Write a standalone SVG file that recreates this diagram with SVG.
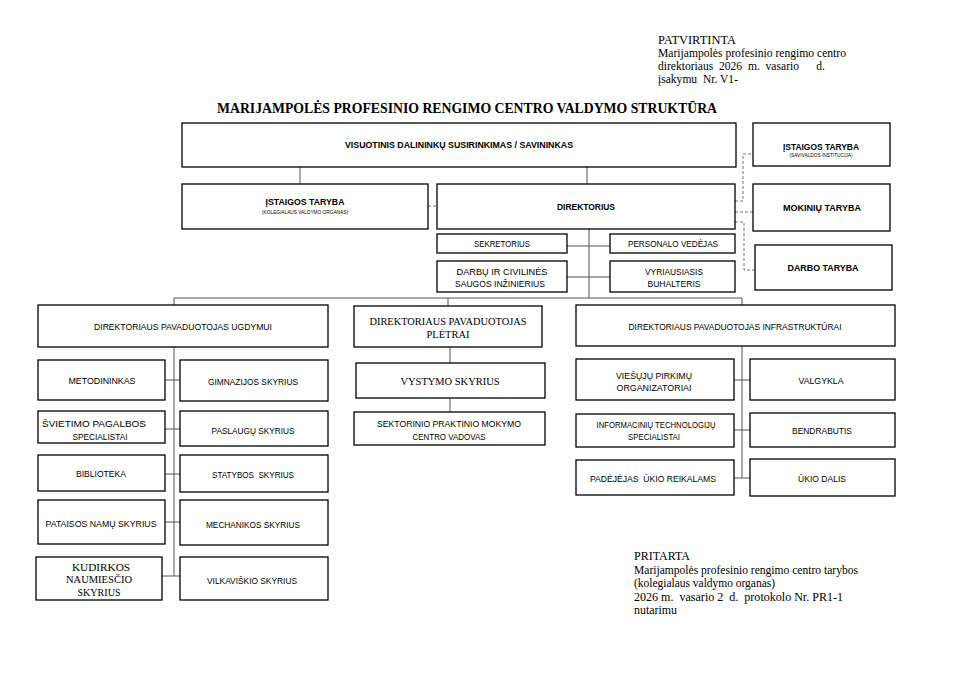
<svg xmlns="http://www.w3.org/2000/svg" width="966" height="683" viewBox="0 0 966 683">
<style>
.b{fill:#fff;stroke:#000;stroke-width:1.3}
.c{fill:none;stroke:#555;stroke-width:1}
.d{fill:none;stroke:#777;stroke-width:1;stroke-dasharray:3,2}
.t{font-family:"Liberation Sans",Arial,sans-serif;font-size:9.2px;fill:#000;text-anchor:middle}
.tb{font-weight:bold}
.ts{font-size:4.5px}
.tr{font-family:"Liberation Serif","Times New Roman",serif;font-size:11px;fill:#000;text-anchor:middle}
.doc{font-family:"Liberation Serif","Times New Roman",serif;font-size:11.5px;fill:#000}
</style>
<rect width="966" height="683" fill="#fff"/>
<g id="doc-text">
<text class="doc" x="658" y="44" textLength="78" lengthAdjust="spacingAndGlyphs">PATVIRTINTA</text>
<text class="doc" x="658" y="57" textLength="188" lengthAdjust="spacingAndGlyphs">Marijampolės profesinio rengimo centro</text>
<text class="doc" x="658" y="70" textLength="167" lengthAdjust="spacingAndGlyphs" xml:space="preserve">direktoriaus  2026  m.  vasario      d.</text>
<text class="doc" x="658" y="83" textLength="80" lengthAdjust="spacingAndGlyphs" xml:space="preserve">įsakymu  Nr. V1-</text>
<text x="467" y="113" font-family="Liberation Serif,Times New Roman,serif" font-weight="bold" font-size="14.5" text-anchor="middle" textLength="500" lengthAdjust="spacingAndGlyphs">MARIJAMPOLĖS PROFESINIO RENGIMO CENTRO VALDYMO STRUKTŪRA</text>
<text class="doc" x="634" y="560" textLength="56" lengthAdjust="spacingAndGlyphs">PRITARTA</text>
<text class="doc" x="634" y="574" textLength="224" lengthAdjust="spacingAndGlyphs">Marijampolės profesinio rengimo centro tarybos</text>
<text class="doc" x="634" y="587" textLength="141" lengthAdjust="spacingAndGlyphs">(kolegialaus valdymo organas)</text>
<text class="doc" x="634" y="601" textLength="209" lengthAdjust="spacingAndGlyphs" xml:space="preserve">2026 m.  vasario 2  d.  protokolo Nr. PR1-1</text>
<text class="doc" x="634" y="614" textLength="43" lengthAdjust="spacingAndGlyphs">nutarimu</text>
</g>
<g id="connectors">
<path class="c" d="M300,167V184M587,167V184"/>
<path class="d" d="M428,206H437"/>
<path class="d" d="M735,201H743V154H753M735,212H753M735,222H744V270H755"/>
<path class="c" d="M589,229V298M567,246H610M567,277H610"/>
<path class="c" d="M174,298H742M174,298V305M448,298V306M742,298V305"/>
<path class="c" d="M174,347V576M165,380H180M165,429H180M165,474H180M165,522H180M162,576H180"/>
<path class="c" d="M450,347V363M450,398V412"/>
<path class="c" d="M742,346V478M734,380H750M734,430H750M734,478H750"/>
</g>
<g id="n-visuotinis"><rect class="b" x="182" y="123" width="554" height="44"/><text class="t tb" x="459" y="148" textLength="228" lengthAdjust="spacingAndGlyphs">VISUOTINIS DALININKŲ SUSIRINKIMAS / SAVININKAS</text></g>
<g id="n-istaigos-taryba-kol"><rect class="b" x="182" y="184" width="246" height="45"/><text class="t tb" x="305" y="205" textLength="79" lengthAdjust="spacingAndGlyphs">ĮSTAIGOS TARYBA</text><text class="t ts" x="305" y="214" textLength="86" lengthAdjust="spacingAndGlyphs">(KOLEGIALAUS VALDYMO ORGANAS)</text></g>
<g id="n-direktorius"><rect class="b" x="437" y="184" width="298" height="45"/><text class="t tb" x="586" y="210" textLength="58" lengthAdjust="spacingAndGlyphs">DIREKTORIUS</text></g>
<g id="n-istaigos-taryba-sav"><rect class="b" x="753" y="123" width="137" height="43"/><text class="t tb" x="821" y="150" textLength="76" lengthAdjust="spacingAndGlyphs">ĮSTAIGOS TARYBA</text><text class="t ts" x="821" y="157" textLength="63" lengthAdjust="spacingAndGlyphs">(SAVIVALDOS INSTITUCIJA)</text></g>
<g id="n-mokiniu"><rect class="b" x="753" y="184" width="137" height="47"/><text class="t tb" x="822" y="211" textLength="78" lengthAdjust="spacingAndGlyphs">MOKINIŲ TARYBA</text></g>
<g id="n-darbo"><rect class="b" x="755" y="245" width="137" height="45"/><text class="t tb" x="823" y="271" textLength="71" lengthAdjust="spacingAndGlyphs">DARBO TARYBA</text></g>
<g id="n-sekretorius"><rect class="b" x="437" y="234" width="130" height="19"/><text class="t" x="502" y="247" textLength="56" lengthAdjust="spacingAndGlyphs">SEKRETORIUS</text></g>
<g id="n-personalo"><rect class="b" x="610" y="234" width="125" height="19"/><text class="t" x="673" y="247" textLength="90" lengthAdjust="spacingAndGlyphs">PERSONALO VEDĖJAS</text></g>
<g id="n-darbu"><rect class="b" x="437" y="261" width="130" height="31"/><text class="t" x="502" y="274.5" textLength="91" lengthAdjust="spacingAndGlyphs">DARBŲ IR CIVILINĖS</text><text class="t" x="500" y="286.5" textLength="90" lengthAdjust="spacingAndGlyphs">SAUGOS INŽINIERIUS</text></g>
<g id="n-vyriausiasis"><rect class="b" x="610" y="261" width="125" height="31"/><text class="t" x="674" y="274.5" textLength="58" lengthAdjust="spacingAndGlyphs">VYRIAUSIASIS</text><text class="t" x="674" y="286.5" textLength="53" lengthAdjust="spacingAndGlyphs">BUHALTERIS</text></g>
<g id="n-ugdymui"><rect class="b" x="38" y="305" width="290" height="42"/><text class="t" x="183" y="329.5" textLength="178" lengthAdjust="spacingAndGlyphs">DIREKTORIAUS PAVADUOTOJAS UGDYMUI</text></g>
<g id="n-pletrai"><rect class="b" x="354" y="306" width="188" height="41"/><text class="tr" x="448" y="324.5" textLength="157" lengthAdjust="spacingAndGlyphs">DIREKTORIAUS PAVADUOTOJAS</text><text class="tr" x="448" y="337.5" textLength="43" lengthAdjust="spacingAndGlyphs">PLĖTRAI</text></g>
<g id="n-infra"><rect class="b" x="576" y="305" width="319" height="41"/><text class="t" x="735" y="329.5" textLength="213" lengthAdjust="spacingAndGlyphs">DIREKTORIAUS PAVADUOTOJAS INFRASTRUKTŪRAI</text></g>
<g id="n-metodininkas"><rect class="b" x="38" y="360" width="127" height="40"/><text class="t" x="102" y="383.5" textLength="67" lengthAdjust="spacingAndGlyphs">METODININKAS</text></g>
<g id="n-gimnazijos"><rect class="b" x="180" y="360" width="148" height="41"/><text class="t" x="253" y="384.5" textLength="90" lengthAdjust="spacingAndGlyphs">GIMNAZIJOS SKYRIUS</text></g>
<g id="n-svietimo"><rect class="b" x="38" y="411" width="127" height="32"/><text class="t" x="94" y="426.5" textLength="104" lengthAdjust="spacingAndGlyphs">ŠVIETIMO PAGALBOS</text><text class="t" x="100" y="439.5" textLength="55" lengthAdjust="spacingAndGlyphs">SPECIALISTAI</text></g>
<g id="n-paslaugu"><rect class="b" x="180" y="411" width="148" height="35"/><text class="t" x="253" y="433.5" textLength="83" lengthAdjust="spacingAndGlyphs">PASLAUGŲ SKYRIUS</text></g>
<g id="n-biblioteka"><rect class="b" x="38" y="455" width="127" height="36"/><text class="t" x="101" y="476.5" textLength="50" lengthAdjust="spacingAndGlyphs">BIBLIOTEKA</text></g>
<g id="n-statybos"><rect class="b" x="180" y="455" width="148" height="37"/><text class="t" x="253" y="477.5" textLength="82" lengthAdjust="spacingAndGlyphs" xml:space="preserve">STATYBOS  SKYRIUS</text></g>
<g id="n-pataisos"><rect class="b" x="38" y="500" width="127" height="44"/><text class="t" x="101" y="526.5" textLength="111" lengthAdjust="spacingAndGlyphs">PATAISOS NAMŲ SKYRIUS</text></g>
<g id="n-mechanikos"><rect class="b" x="180" y="500" width="148" height="45"/><text class="t" x="253" y="527.5" textLength="94" lengthAdjust="spacingAndGlyphs">MECHANIKOS SKYRIUS</text></g>
<g id="n-kudirkos"><rect class="b" x="36" y="557" width="126" height="43"/><text class="tr" x="101" y="571" textLength="58" lengthAdjust="spacingAndGlyphs">KUDIRKOS</text><text class="tr" x="99" y="583" textLength="66" lengthAdjust="spacingAndGlyphs">NAUMIESČIO</text><text class="tr" x="99" y="596" textLength="43" lengthAdjust="spacingAndGlyphs">SKYRIUS</text></g>
<g id="n-vilkaviskio"><rect class="b" x="180" y="557" width="148" height="43"/><text class="t" x="252" y="583.5" textLength="90" lengthAdjust="spacingAndGlyphs">VILKAVIŠKIO SKYRIUS</text></g>
<g id="n-vystymo"><rect class="b" x="356" y="363" width="189" height="35"/><text class="tr" x="450" y="385" textLength="99" lengthAdjust="spacingAndGlyphs">VYSTYMO SKYRIUS</text></g>
<g id="n-sektorinio"><rect class="b" x="354" y="412" width="191" height="33"/><text class="t" x="449" y="426.5" textLength="144" lengthAdjust="spacingAndGlyphs">SEKTORINIO PRAKTINIO MOKYMO</text><text class="t" x="449" y="439.5" textLength="73" lengthAdjust="spacingAndGlyphs">CENTRO VADOVAS</text></g>
<g id="n-viesuju"><rect class="b" x="576" y="359" width="158" height="41"/><text class="t" x="654" y="378.5" textLength="76" lengthAdjust="spacingAndGlyphs">VIEŠŲJŲ PIRKIMŲ</text><text class="t" x="654" y="390.5" textLength="75" lengthAdjust="spacingAndGlyphs">ORGANIZATORIAI</text></g>
<g id="n-valgykla"><rect class="b" x="750" y="359" width="145" height="41"/><text class="t" x="821" y="383.5" textLength="45" lengthAdjust="spacingAndGlyphs">VALGYKLA</text></g>
<g id="n-informaciniu"><rect class="b" x="576" y="414" width="158" height="33"/><text class="t" x="656" y="428" font-size="7.8" textLength="119" lengthAdjust="spacingAndGlyphs">INFORMACINIŲ TECHNOLOGIJŲ</text><text class="t" x="654" y="440" font-size="7.8" textLength="52" lengthAdjust="spacingAndGlyphs">SPECIALISTAI</text></g>
<g id="n-bendrabutis"><rect class="b" x="750" y="413" width="145" height="34"/><text class="t" x="822" y="433.5" textLength="60" lengthAdjust="spacingAndGlyphs">BENDRABUTIS</text></g>
<g id="n-padejejas"><rect class="b" x="576" y="460" width="158" height="35"/><text class="t" x="653" y="481.5" textLength="126" lengthAdjust="spacingAndGlyphs" xml:space="preserve">PADĖJĖJAS  ŪKIO REIKALAMS</text></g>
<g id="n-ukio-dalis"><rect class="b" x="750" y="459" width="145" height="37"/><text class="t" x="822" y="481.5" textLength="48" lengthAdjust="spacingAndGlyphs">ŪKIO DALIS</text></g>
</svg>
